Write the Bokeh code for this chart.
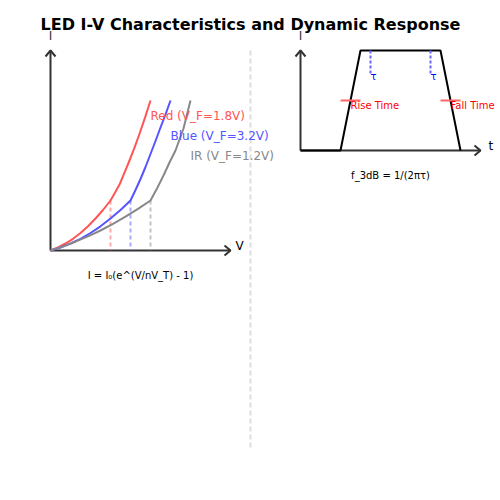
from bokeh.plotting import figure
from bokeh.models import Range1d
from bokeh.embed import file_html
from bokeh.resources import INLINE
from bokeh.core.properties import value

FONT = "DejaVu Sans"

# ---- data ----
title_text = "LED I-V Characteristics and Dynamic Response"

red_x = [50, 57.5, 65, 72.5, 80, 87.5, 95, 102.5, 110, 114.6, 119.3, 124.1, 129, 134.1, 139.3, 144.6, 150]
red_y = [250, 247, 243, 238.3, 232.5, 225.8, 218, 209.5, 200, 191.9, 183.5, 171.9, 160, 146.9, 132.5, 116.9, 100]
blue_x = [50, 60, 70, 80, 90, 100, 110, 120, 130, 135, 140, 145, 150, 155, 160, 165, 170]
blue_y = [250, 247, 243, 238.3, 232.5, 225.8, 218, 209.5, 200, 189.5, 178.5, 166.5, 153.5, 140.5, 127, 114, 100]
ir_x = [50, 62.5, 75, 87.5, 100, 112.5, 125, 137.5, 150, 157, 163, 169, 175, 179, 183, 186.5, 190]
ir_y = [250, 245.9, 241.2, 235.9, 230, 223.4, 216.2, 208.4, 200, 187, 175, 162, 150, 139, 128, 114, 100]

series_names = ["Red (V_F=1.8V)", "Blue (V_F=3.2V)", "IR (V_F=1.2V)"]
series_colors = ["#ff5555", "#5555ff", "#888888"]
vf_x = [110, 130, 150]          # knee voltages (x positions)
vf_y = [200, 200, 200]
label_x = [150, 170, 190]
label_y = [115, 135, 155]

# pulse (response) trapezoid
pulse_x = [300, 340, 360, 440, 460]
pulse_y = [150, 150, 50, 50, 150]
tau_x = [370, 430]
rise_fall_x = [340, 440]
rise_fall_labels = ["Rise Time", "Fall Time"]

# ---- figure: data coordinates == picture pixels ----
p = figure(width=500, height=500, x_range=Range1d(0, 500), y_range=Range1d(500, 0),
           output_backend="svg", toolbar_location=None, min_border=0)
p.axis.visible = False
p.grid.visible = False
p.outline_line_color = None
p.background_fill_color = "white"
p.border_fill_color = "white"

AX = "#333333"

# title
p.text(x=[250], y=[24], text=[title_text], text_font=value(FONT), text_font_size="16px",
       text_font_style="bold", text_align="center", text_baseline="alphabetic", text_color="black")

# divider
p.line([250, 250], [50, 450], line_color="#dddddd", line_width=2, line_dash="5 3")

# ---- left panel axes ----
p.line([50, 50], [250, 50], line_color=AX, line_width=2)
p.line([50, 230], [250, 250], line_color=AX, line_width=2)
p.line([45, 50, 55], [56, 50, 56], line_color=AX, line_width=2)
p.line([224, 230, 224], [245, 250, 255], line_color=AX, line_width=2)
p.text(x=[50], y=[35], text=["I"], text_font=value(FONT), text_font_size="12px",
       text_align="center", text_baseline="alphabetic", text_color=AX)
p.text(x=[235], y=[245], text=["V"], text_font=value(FONT), text_font_size="12px",
       text_align="left", text_baseline="alphabetic", text_color="black")

# knee dashed lines
for xv, yv, c in zip(vf_x, vf_y, series_colors):
    p.line([xv, xv], [yv, 250], line_color=c, line_alpha=0.5, line_width=2, line_dash="4 3")

# curves
for xs, ys, c in zip([red_x, blue_x, ir_x], [red_y, blue_y, ir_y], series_colors):
    p.line(xs, ys, line_color=c, line_width=2, line_join="round")

# labels
for lx, ly, t, c in zip(label_x, label_y, series_names, series_colors):
    p.text(x=[lx], y=[ly], text=[t], text_font=value(FONT), text_font_size="12px",
           text_align="left", text_baseline="alphabetic", text_color=c)

p.text(x=[140], y=[275], text=["I = I\u2080(e^(V/nV_T) - 1)"], text_font=value(FONT),
       text_font_size="10px", text_align="center", text_baseline="alphabetic", text_color="black")

# ---- right panel ----
p.line([300, 300], [150, 50], line_color=AX, line_width=2)
p.line([300, 480], [150, 150], line_color=AX, line_width=2)
p.line([295, 300, 305], [56, 50, 56], line_color=AX, line_width=2)
p.line([474, 480, 474], [145, 150, 155], line_color=AX, line_width=2)
p.text(x=[300], y=[35], text=["I"], text_font=value(FONT), text_font_size="12px",
       text_align="center", text_baseline="alphabetic", text_color=AX)
p.text(x=[488], y=[145], text=["t"], text_font=value(FONT), text_font_size="12px",
       text_align="left", text_baseline="alphabetic", text_color="black")

p.line(pulse_x, pulse_y, line_color="black", line_width=2)

for tx in tau_x:
    p.line([tx, tx], [50, 75], line_color="#6666ff", line_width=2, line_dash="3 2")
    p.text(x=[tx], y=[76], text=["\u03c4"], text_font=value(FONT), text_font_size="10px",
           text_align="left", text_baseline="alphabetic", text_color="blue")

for rx, lab in zip(rise_fall_x, rise_fall_labels):
    p.line([rx, rx + 20], [100, 100], line_color="#ff6666", line_width=2)
    p.text(x=[rx + 10], y=[105], text=[lab], text_font=value(FONT), text_font_size="10px",
           text_align="left", text_baseline="alphabetic", text_color="red")

p.text(x=[390], y=[175], text=["f_3dB = 1/(2\u03c0\u03c4)"], text_font=value(FONT),
       text_font_size="10px", text_align="center", text_baseline="alphabetic", text_color="black")

open("out.html", "w").write(file_html(p, INLINE))
